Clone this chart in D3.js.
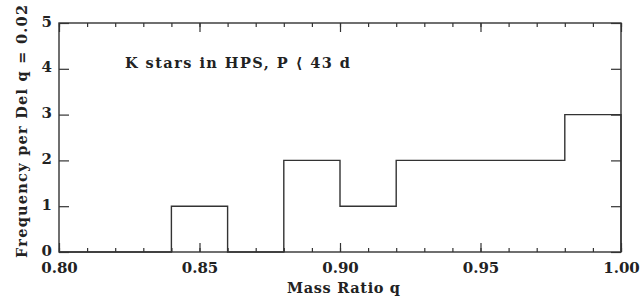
<!DOCTYPE html>
<meta charset="utf-8">
<script src="https://d3js.org/d3.v7.min.js"></script>
<style>
  body { margin: 0; background: #fff; }
  svg text { font-family: "DejaVu Serif", serif; font-weight: bold; fill: #222; }
</style>
<div id="chart"></div>
<script>
// histogram bins of width 0.02 (left edges) and their counts
var binStarts = [0.80, 0.82, 0.84, 0.86, 0.88, 0.90, 0.92, 0.94, 0.96, 0.98];
var counts    = [0, 0, 1, 0, 2, 1, 2, 2, 2, 3];
var binWidth = 0.02;
var xTicks = [0.80, 0.85, 0.90, 0.95, 1.00];
var yTicks = [0, 1, 2, 3, 4, 5];

var W = 640, H = 300;
var margin = { top: 23, right: 19, bottom: 48, left: 59 };
var width = W - margin.left - margin.right,
    height = H - margin.top - margin.bottom;

var svg = d3.select("#chart").append("svg")
    .attr("width", W).attr("height", H);
var g = svg.append("g")
    .attr("transform", "translate(" + margin.left + "," + margin.top + ")");

var x = d3.scaleLinear().domain([0.80, 1.00]).range([0, width]);
var y = d3.scaleLinear().domain([0, 5]).range([height, 0]);

var minor = d3.range(0.80, 1.0001, 0.01);

function tickStyle(s) {
  s.select(".domain").remove();
  s.selectAll("line").attr("stroke", "#333").attr("stroke-width", 1.2);
}

// frame
g.append("rect").attr("width", width).attr("height", height)
  .attr("fill", "none").attr("stroke", "#333").attr("stroke-width", 1.4);

// bottom axis: minor + major ticks and labels
g.append("g").attr("transform", "translate(0," + height + ")")
  .call(d3.axisTop(x).tickValues(minor).tickSize(4).tickFormat(""))
  .call(tickStyle);
g.append("g").attr("transform", "translate(0," + height + ")")
  .call(d3.axisTop(x).tickValues(xTicks).tickSize(9).tickFormat(""))
  .call(tickStyle);
g.append("g").attr("transform", "translate(0," + height + ")")
  .call(d3.axisBottom(x).tickValues(xTicks).tickSize(0).tickPadding(10).tickFormat(d3.format(".2f")))
  .call(function(s) { s.select(".domain").remove(); s.selectAll("text").attr("font-size", 15).attr("fill", "#222"); });

// top axis
g.append("g")
  .call(d3.axisBottom(x).tickValues(minor).tickSize(4).tickFormat(""))
  .call(tickStyle);
g.append("g")
  .call(d3.axisBottom(x).tickValues(xTicks).tickSize(9).tickFormat(""))
  .call(tickStyle);

// left axis
g.append("g")
  .call(d3.axisRight(y).tickValues(yTicks).tickSize(10).tickFormat(""))
  .call(tickStyle);
g.append("g")
  .call(d3.axisLeft(y).tickValues(yTicks).tickSize(0).tickPadding(7).tickFormat(d3.format("d")))
  .call(function(s) {
    s.select(".domain").remove();
    s.selectAll("text").attr("font-size", 15).attr("fill", "#222").attr("dy", "0.2em");
  });

// right axis
g.append("g").attr("transform", "translate(" + width + ",0)")
  .call(d3.axisLeft(y).tickValues(yTicks).tickSize(10).tickFormat(""))
  .call(tickStyle);

// histogram step line
var pts = [[0.80, 0]];
binStarts.forEach(function(b, i) {
  pts.push([b, counts[i]]);
  pts.push([b + binWidth, counts[i]]);
});
pts.push([1.00, 0]);
g.append("path")
  .datum(pts)
  .attr("fill", "none").attr("stroke", "#333").attr("stroke-width", 1.4)
  .attr("d", d3.line().x(function(d) { return x(d[0]); }).y(function(d) { return y(d[1]); }));

// labels
svg.append("text")
  .attr("x", 125).attr("y", 68)
  .attr("font-size", 14.5)
  .attr("textLength", 225)
  .text("K stars in HPS, P \u27E8 43 d");

svg.append("text")
  .attr("x", 287).attr("y", 293)
  .attr("font-size", 14.5)
  .attr("textLength", 113)
  .text("Mass Ratio q");

svg.append("text")
  .attr("transform", "translate(27,258) rotate(-90)")
  .attr("font-size", 14.5)
  .attr("textLength", 253)
  .text("Frequency per Del q = 0.02");

// edge of the next panel's label, cut off at the bottom
svg.append("text")
  .attr("transform", "translate(27,300) rotate(-90)")
  .attr("font-size", 14.5)
  .attr("x", -10)
  .text("2");
</script>
